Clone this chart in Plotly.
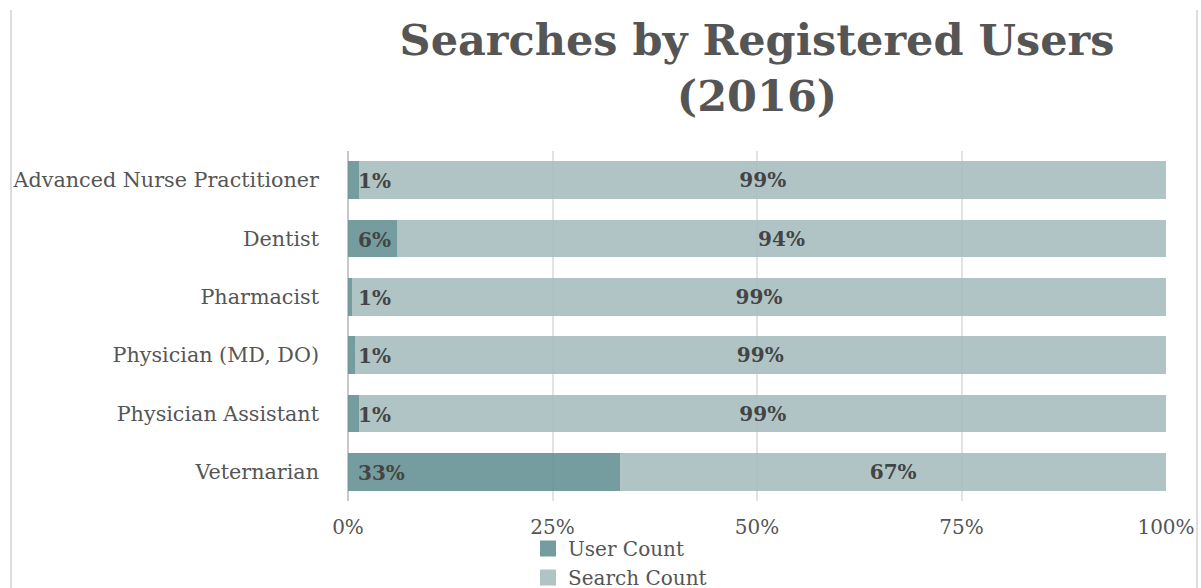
import plotly.graph_objects as go

categories = ["Advanced Nurse Practitioner", "Dentist", "Pharmacist",
              "Physician (MD, DO)", "Physician Assistant", "Veternarian"]
user_pct = [1.4, 6.0, 0.5, 0.8, 1.4, 33.3]
search_pct = [98.6, 94.0, 99.5, 99.2, 98.6, 66.7]
user_labels = ["1%", "6%", "1%", "1%", "1%", "33%"]
search_labels = ["99%", "94%", "99%", "99%", "99%", "67%"]
x_ticks = [0, 25, 50, 75, 100]
x_tick_labels = ["0%", "25%", "50%", "75%", "100%"]

W, H = 1201, 588
ML, MR, MT, MB = 348, 35, 151, 87
PW, PH = W - ML - MR, H - MT - MB

FONT = "Georgia, 'DejaVu Serif', serif"
TXT = "#555555"
USER_COLOR = "rgba(98,143,146,0.88)"
SEARCH_COLOR = "rgba(165,188,190,0.88)"
LABEL_FONT = dict(family=FONT, size=20, color="#444444", weight="bold")

fig = go.Figure()
fig.add_trace(go.Bar(
    y=categories, x=user_pct, name="User Count", orientation="h",
    marker=dict(color=USER_COLOR, line=dict(width=0)),
    showlegend=False, hoverinfo="skip",
))
fig.add_trace(go.Bar(
    y=categories, x=search_pct, name="Search Count", orientation="h",
    marker=dict(color=SEARCH_COLOR, line=dict(width=0)),
    text=search_labels, textposition="inside", insidetextanchor="middle",
    constraintext="none", textfont=LABEL_FONT,
    showlegend=False, hoverinfo="skip",
))
# legend entries with large square swatches
for name, col in (("User Count", USER_COLOR), ("Search Count", SEARCH_COLOR)):
    fig.add_trace(go.Scatter(
        x=[None], y=[None], mode="markers", name=name,
        marker=dict(symbol="square", size=22, color=col),
        hoverinfo="skip",
    ))

annotations = []
for cat, lab in zip(categories, user_labels):
    annotations.append(dict(x=0, y=cat, xref="x", yref="y", text=lab,
                            showarrow=False, xanchor="left", yanchor="middle",
                            xshift=8, yshift=-1, font=LABEL_FONT))

def px_to_paper_x(px):
    return (px - ML) / PW

def px_to_paper_y(py):
    return (H - MB - py) / PH

shapes = []
for xp in (11, 1197):
    shapes.append(dict(type="line", xref="paper", yref="paper",
                       x0=px_to_paper_x(xp), x1=px_to_paper_x(xp),
                       y0=px_to_paper_y(10), y1=px_to_paper_y(H),
                       line=dict(color="#dddddd", width=2)))

fig.update_layout(
    width=W, height=H,
    barmode="stack", bargap=0.35,
    margin=dict(l=ML, r=MR, t=MT, b=MB, autoexpand=False),
    paper_bgcolor="white", plot_bgcolor="white",
    font=dict(family=FONT, color=TXT, size=20),
    title=dict(text="<b>Searches by Registered Users<br>(2016)</b>",
               x=px_to_paper_x(757), xref="paper", xanchor="center",
               y=0.906, yref="container", yanchor="top",
               font=dict(family=FONT, size=43, color="#555555")),
    xaxis=dict(range=[0, 100], tickvals=x_ticks, ticktext=x_tick_labels,
               showgrid=True, gridcolor="#e3e3e3", gridwidth=2,
               zeroline=True, zerolinecolor="#c8c8c8", zerolinewidth=2,
               showline=False, ticks="", ticklabelstandoff=12,
               tickfont=dict(family=FONT, size=20, color=TXT), fixedrange=True),
    yaxis=dict(autorange="reversed", showgrid=False, showline=False,
               ticks="", ticklabelstandoff=28,
               tickfont=dict(family=FONT, size=20.7, color=TXT), fixedrange=True),
    legend=dict(orientation="v", x=px_to_paper_x(528), xanchor="left",
                y=px_to_paper_y(529), yanchor="top", traceorder="normal",
                font=dict(family=FONT, size=20, color=TXT),
                bgcolor="rgba(0,0,0,0)", itemsizing="trace",
                tracegroupgap=0),
    annotations=annotations,
    shapes=shapes,
    showlegend=True,
)

fig.write_html("out.html", config={"displayModeBar": False},
               post_script="document.body.style.margin='0px';document.body.style.overflow='hidden';")
